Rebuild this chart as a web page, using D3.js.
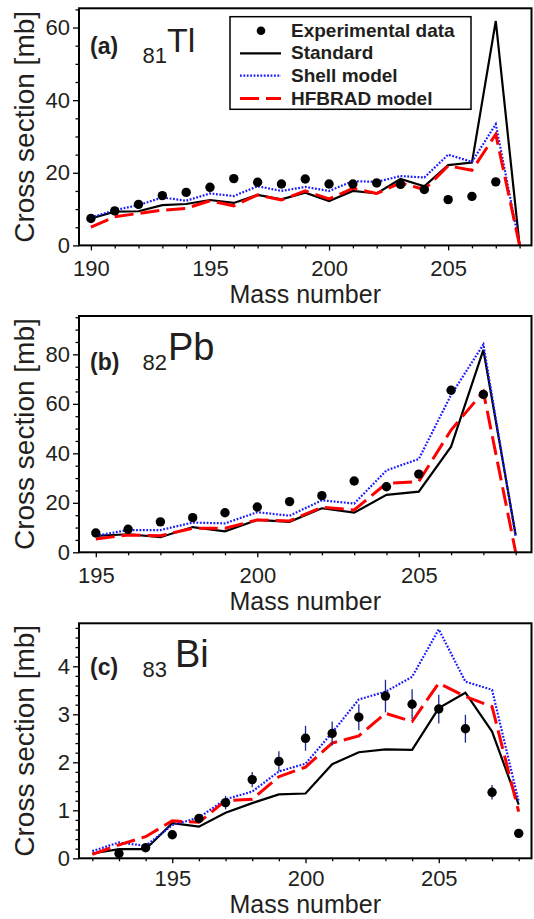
<!DOCTYPE html>
<html>
<head>
<meta charset="utf-8">
<script src="https://cdn.jsdelivr.net/npm/d3@7/dist/d3.min.js"></script>
<style>
  html, body { margin: 0; padding: 0; background: #fff; }
  svg { display: block; }
  text { font-family: "Liberation Sans", Arial, Helvetica, sans-serif; fill: #231f20; }
</style>
</head>
<body>
<svg id="chart" width="534" height="919"></svg>
<script>
// ---- (a) Thallium isotopes ----
const massTl = [190,191,192,193,194,195,196,197,198,199,200,201,202,203,204,205,206,207,208];
const expMassTl = [190,191,192,193,194,195,196,197,198,199,200,201,202,203,204,205,206,207];
const expTl = [7.4,9.5,11.3,13.7,14.6,16.0,18.4,17.4,16.9,18.3,16.9,16.9,17.2,16.8,15.4,12.6,13.5,17.5];
const expErrTl = [0,0,0,0,0,0,0,0,0,0,0,0,0,0,0,0,0,0];
const standardTl = [7.4,9.3,9.4,11.1,11.4,12.5,11.7,13.9,12.7,14.5,12.2,15.0,14.3,18.3,16.3,22.1,22.8,61.8,0];
const shellTl = [7.7,9.7,11.1,13.2,12.3,14.3,13.6,16.3,15.0,16.1,15.0,17.7,17.5,19.1,18.7,25.0,23.0,33.4,0];
const hfbradTl = [5.0,7.9,8.8,9.7,10.2,12.3,10.9,13.9,12.5,15.0,12.8,15.7,14.3,17.2,15.4,21.9,20.7,30.6,0];

// ---- (b) Lead isotopes ----
const massPb = [195,196,197,198,199,200,201,202,203,204,205,206,207,208];
const expMassPb = [195,196,197,198,199,200,201,202,203,204,205,206,207];
const expPb = [7.8,9.3,12.3,14.0,16.0,18.3,20.5,22.9,28.8,26.5,31.6,65.5,63.8];
const expErrPb = [0,0,0,0,0,0,0,0,0,0,0,18.2,9.6];
const standardPb = [6.6,7.3,6.1,10.2,8.5,13.1,12.3,17.8,16.0,23.2,24.5,42.7,81.8,7.0];
const shellPb = [6.7,9.0,9.0,12.0,11.7,16.2,14.8,21.0,19.7,33.1,37.7,63.6,84.0,6.3];
const hfbradPb = [5.4,7.0,6.7,9.7,9.7,13.1,12.7,18.2,17.1,27.9,28.6,49.4,64.9,0];

// ---- (c) Bismuth isotopes ----
const massBi = [192,193,194,195,196,197,198,199,200,201,202,203,204,205,206,207,208];
const expMassBi = [193,194,195,196,197,198,199,200,201,202,203,204,205,206,207,208];
const expBi = [0.10,0.22,0.49,0.83,1.16,1.64,2.02,2.50,2.60,2.94,3.38,3.21,3.11,2.70,1.375,0.52];
const expErrBi = [0.03,0.04,0.05,0.06,0.14,0.16,0.21,0.26,0.25,0.27,0.34,0.31,0.30,0.29,0.15,0.04];
const standardBi = [0.10,0.19,0.19,0.73,0.66,0.95,1.15,1.33,1.35,1.96,2.21,2.27,2.26,3.13,3.45,2.64,1.12];
const shellBi = [0.15,0.33,0.26,0.69,0.85,1.23,1.39,1.81,1.97,2.62,3.31,3.47,3.78,4.77,3.68,3.51,1.18];
const hfbradBi = [0.08,0.28,0.45,0.78,0.75,1.20,1.23,1.70,1.90,2.40,2.55,3.02,2.85,3.65,3.37,3.16,0.97];

// Axis ticks
const xMajorTl = [190,195,200,205];
const xMajorPb = [195,200,205];
const xMajorBi = [195,200,205];
const yMajorTl = [0,20,40,60];
const yMajorPb = [0,20,40,60,80];
const yMajorBi = [0,1,2,3,4];

// Legend entries
const legendLabels = ["Experimental data","Standard","Shell model","HFBRAD model"];

const xTitle = "Mass number";
const yTitle = "Cross section [mb]";

// Series styling
const styles = {
  standard: { stroke: "#000000", width: 2.2, dash: null },
  shell:    { stroke: "#1a1aff", width: 2.2, dash: "1.8,1.6" },
  hfbrad:   { stroke: "#ff0000", width: 3,   dash: "19,7" }
};

const svg = d3.select("#chart");

const panels = [
  { tag: "(a)", sub: "81", el: "Tl", mass: massTl, expMass: expMassTl, exp: expTl, err: expErrTl,
    standard: standardTl, shell: shellTl, hfbrad: hfbradTl,
    xdom: [189.5, 208.5], ydom: [0, 65.3], xMajor: xMajorTl, yMajor: yMajorTl, yMinorStep: 5,
    top: 8.3, bottom: 245.4, tickPad: 10, titleOff: 58,
    label: { tagY: 54, subY: 63, elY: 51.5, elX: 167, elSize: 34 }, legend: true },
  { tag: "(b)", sub: "82", el: "Pb", mass: massPb, expMass: expMassPb, exp: expPb, err: expErrPb,
    standard: standardPb, shell: shellPb, hfbrad: hfbradPb,
    xdom: [194.48, 208.49], ydom: [0, 95.5], xMajor: xMajorPb, yMajor: yMajorPb, yMinorStep: 5,
    top: 316, bottom: 552.3, tickPad: 10, titleOff: 58,
    label: { tagY: 370, subY: 370, elY: 360, elX: 168, elSize: 38 }, legend: false },
  { tag: "(c)", sub: "83", el: "Bi", mass: massBi, expMass: expMassBi, exp: expBi, err: expErrBi,
    standard: standardBi, shell: shellBi, hfbrad: hfbradBi,
    xdom: [191.5, 208.48], ydom: [0, 4.896], xMajor: xMajorBi, yMajor: yMajorBi, yMinorStep: 0.2,
    top: 623.3, bottom: 858.3, tickPad: 7, titleOff: 55,
    label: { tagY: 675, subY: 677, elY: 667, elX: 175, elSize: 38 }, legend: false }
];

const left = 79, right = 531.5;

panels.forEach((p, i) => {
  const x = d3.scaleLinear().domain(p.xdom).range([left, right]);
  const y = d3.scaleLinear().domain(p.ydom).range([p.bottom, p.top]);
  const g = svg.append("g");

  // clip region for curves
  const clipId = "clip" + i;
  svg.append("clipPath").attr("id", clipId).append("rect")
    .attr("x", left).attr("y", p.top - 2).attr("width", right - left).attr("height", p.bottom - p.top + 6);

  // minor ticks
  const xMinor = d3.range(Math.ceil(p.xdom[0]), Math.floor(p.xdom[1]) + 1).filter(v => !p.xMajor.includes(v));
  const yMinor = d3.range(0, p.ydom[1] + 1e-9, p.yMinorStep)
    .map(v => +v.toFixed(4)).filter(v => !p.yMajor.some(m => Math.abs(m - v) < 1e-6));

  const xAxisMinor = d3.axisBottom(x).tickValues(xMinor).tickSize(3).tickFormat("");
  const xAxisMajor = d3.axisBottom(x).tickValues(p.xMajor).tickSize(5).tickPadding(p.tickPad).tickFormat(d3.format("d"));
  const yAxisMinor = d3.axisLeft(y).tickValues(yMinor).tickSize(3.5).tickFormat("");
  const yAxisMajor = d3.axisLeft(y).tickValues(p.yMajor).tickSize(6).tickPadding(3).tickFormat(d3.format("d"));

  [xAxisMinor, xAxisMajor].forEach(ax => {
    const a = g.append("g").attr("transform", `translate(0,${p.bottom})`).call(ax);
    a.select(".domain").remove();
    a.selectAll("line").attr("stroke", "#000").attr("stroke-width", 1.3);
    a.selectAll("text").attr("font-size", 22).style("fill", "#231f20");
  });
  [yAxisMinor, yAxisMajor].forEach(ax => {
    const a = g.append("g").attr("transform", `translate(${left},0)`).call(ax);
    a.select(".domain").remove();
    a.selectAll("line").attr("stroke", "#000").attr("stroke-width", 1.3);
    a.selectAll("text").attr("font-size", 22).style("fill", "#231f20");
  });

  // axis titles
  g.append("text").attr("x", (left + right) / 2).attr("y", p.bottom + p.titleOff)
    .attr("text-anchor", "middle").attr("font-size", 25).text(xTitle);
  g.append("text")
    .attr("transform", `translate(34,${(p.top + p.bottom) / 2}) rotate(-90)`)
    .attr("text-anchor", "middle").attr("font-size", 28).text(yTitle);

  // model curves
  const curves = g.append("g").attr("clip-path", `url(#${clipId})`);
  const line = d3.line().x((d, j) => x(p.mass[j])).y(d => y(d));
  ["standard", "shell", "hfbrad"].forEach(k => {
    const s = styles[k];
    curves.append("path").datum(p[k]).attr("d", line)
      .attr("fill", "none").attr("stroke", s.stroke).attr("stroke-width", s.width)
      .attr("stroke-dasharray", s.dash).attr("stroke-linejoin", "miter");
  });

  // error bars
  g.append("g").selectAll("line").data(p.exp).join("line")
    .filter((d, j) => p.err[j] > 0)
    .attr("x1", (d, j) => x(p.expMass[j])).attr("x2", (d, j) => x(p.expMass[j]))
    .attr("y1", (d, j) => y(d - p.err[j])).attr("y2", (d, j) => y(d + p.err[j]))
    .attr("stroke", "#1c2a8c").attr("stroke-width", 1.3);

  // experimental points
  g.append("g").selectAll("circle").data(p.exp).join("circle")
    .attr("cx", (d, j) => x(p.expMass[j])).attr("cy", d => y(d))
    .attr("r", 4.7).attr("fill", "#000");

  // frame
  g.append("rect").attr("x", left).attr("y", p.top).attr("width", right - left).attr("height", p.bottom - p.top)
    .attr("fill", "none").attr("stroke", "#000").attr("stroke-width", 2);

  // panel label with nuclide symbol
  g.append("text").attr("x", 90).attr("y", p.label.tagY).attr("font-size", 23).attr("font-weight", "bold").text(p.tag);
  g.append("text").attr("x", 142.5).attr("y", p.label.subY).attr("font-size", 22).text(p.sub);
  g.append("text").attr("x", p.label.elX).attr("y", p.label.elY).attr("font-size", p.label.elSize).text(p.el);

  // legend
  if (p.legend) {
    const lg = g.append("g");
    lg.append("rect").attr("x", 230).attr("y", 16.7).attr("width", 241).attr("height", 92.6)
      .attr("fill", "#fff").attr("stroke", "#000").attr("stroke-width", 1.5);
    const rows = [36.7, 59.3, 81.7, 104.5];
    const keys = [null, "standard", "shell", "hfbrad"];
    legendLabels.forEach((lab, j) => {
      const cy = rows[j] - 6;
      if (j === 0) {
        lg.append("circle").attr("cx", 261).attr("cy", cy).attr("r", 4.3).attr("fill", "#000");
      } else {
        const s = styles[keys[j]];
        lg.append("line").attr("x1", 240).attr("x2", 281).attr("y1", cy).attr("y2", cy)
          .attr("stroke", s.stroke).attr("stroke-width", s.width).attr("stroke-dasharray", s.dash);
      }
      lg.append("text").attr("x", 291).attr("y", rows[j]).attr("font-size", 19)
        .attr("font-weight", "bold").text(lab);
    });
  }
});
</script>
</body>
</html>
